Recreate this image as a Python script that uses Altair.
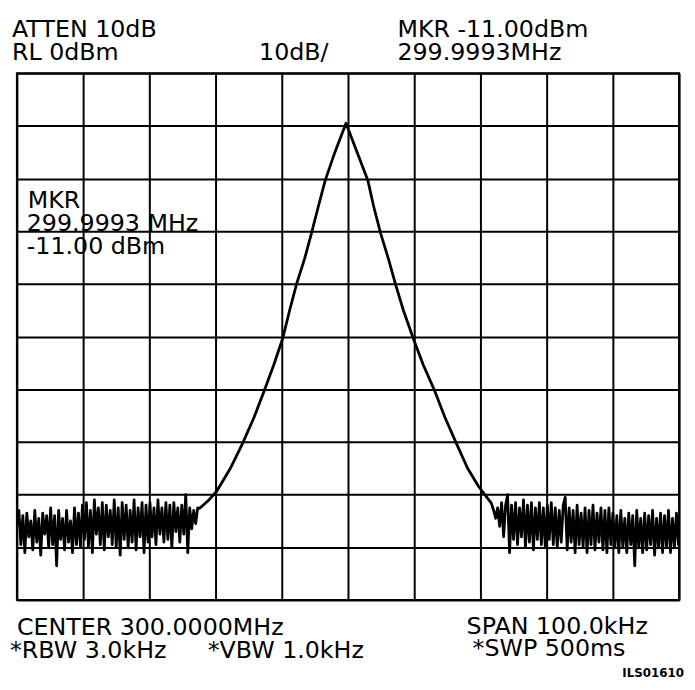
import altair as alt
import pandas as pd

# ---------------- data ----------------
START_MHZ = 299.95          # CENTER 300.0000 MHz, SPAN 100 kHz
grid_khz = [0, 10, 20, 30, 40, 50, 60, 70, 80, 90, 100]
grid_dbm = [0, -10, -20, -30, -40, -50, -60, -70, -80, -90, -100]

NOISE_STEP_KHZ = 0.3
noise_left_start_khz = 0.0
noise_left_dbm = [
    # 0 - 10 kHz
    -86, -83, -89.5, -84, -91, -83.5, -88, -85, -90.5, -83,
    -89, -84.5, -91.5, -83.5, -87.5, -84, -90, -82.5, -89.5, -84,
    -93.5, -83, -88.5, -84.5, -90.5, -83, -89, -85, -91, -82.5,
    -89.5, -83.5, -90, -82,
    # 10 - 20 kHz
    -88.5, -81.5, -90, -83, -91, -81, -87.5, -82.5, -89.5, -81.5,
    -90.5, -82, -88, -83, -89.5, -81, -90, -82.5, -91.5, -81.5,
    -88.5, -82, -90, -83, -89, -81, -90.5, -82.5, -88, -81.5,
    -91, -82, -89,
    # 20 - 27.6 kHz
    -81.5, -88, -82.5, -89.5, -81, -87.5, -82.5, -89, -81.5, -88.5,
    -82, -90, -81.5, -87, -82.5, -89, -82, -87.5, -80, -91,
    -82.5, -86.5, -83, -85.5, -82.5, -82.6,
]

curve_khz = [29.0, 30.15, 32.24, 34.03, 35.82, 37.31, 38.81, 40.15, 41.19,
             42.24, 43.43, 44.48, 45.52, 46.57, 47.91, 49.7,
             51.49, 52.99, 53.88, 54.93, 56.12, 57.16, 58.36, 59.85, 61.34,
             63.13, 64.63, 66.42, 68.06, 69.70, 71.64]
curve_dbm = [-81.0, -79.4, -75.0, -70.4, -65.3, -60.4, -55.3, -50.3, -45.0,
             -40.0, -35.3, -30.4, -25.3, -20.3, -15.4, -9.5,
             -15.4, -20.3, -25.3, -30.4, -35.3, -40.0, -45.0, -50.3, -55.3,
             -60.4, -65.3, -70.4, -75.0, -78.4, -81.6]

noise_right_start_khz = 72.0
noise_right_dbm = [
    # 72 - 81 kHz
    -83, -84.5, -82.5, -86, -81.5, -88, -82, -80, -91, -82,
    -88.5, -81.5, -89.5, -82.5, -88, -81, -90, -82, -89, -81.5,
    -90.5, -82.5, -88.5, -81.5, -89.5, -82.5, -90, -82, -88.5, -81.5,
    # 81 - 90 kHz
    -89.5, -82.5, -90, -83, -89, -82, -80.5, -90.5, -82.5, -89,
    -83, -91, -82, -89.5, -83.5, -90, -82.5, -91, -83, -89.5,
    -82, -90.5, -83.5, -89, -82.5, -90.5, -83, -91, -82.5, -89.5,
    # 90 - 100 kHz
    -83.5, -90, -84, -91, -83, -90, -84.5, -91, -83.5, -89.5,
    -84, -93.5, -83, -90, -84.5, -91, -83.5, -90.5, -84, -89.5,
    -83, -91.5, -84.5, -90, -83.5, -91, -84, -90, -83, -91,
    -84.5, -90, -83.5, -89.5, -84,
]

header_labels = ["ATTEN 10dB", "RL 0dBm", "10dB/", "MKR -11.00dBm", "299.9993MHz"]
marker_labels = ["MKR", "299.9993 MHz", "-11.00 dBm"]
footer_labels = ["CENTER 300.0000MHz", "*RBW 3.0kHz", "*VBW 1.0kHz",
                 "SPAN 100.0kHz", "*SWP 500ms"]
figure_id = "ILS01610"

# ---------------- table ----------------
khz = ([noise_left_start_khz + NOISE_STEP_KHZ * i for i in range(len(noise_left_dbm))]
       + curve_khz
       + [noise_right_start_khz + NOISE_STEP_KHZ * i for i in range(len(noise_right_dbm))])
dbm = noise_left_dbm + curve_dbm + noise_right_dbm
trace = pd.DataFrame({"freq": [START_MHZ + k / 1000.0 for k in khz], "dbm": dbm})
grid_mhz = [START_MHZ + k / 1000.0 for k in grid_khz]

# ---------------- layout (page pixels) ----------------
PLOT_LEFT, PLOT_TOP = 17, 70
W, H = 670, 533
FONT = "DejaVu Sans"
FS = 24

header_pos = [(12, 33), (12, 57), (262, 57), (402, 33), (402, 57)]
marker_pos = [(28, 206), (27, 230), (27, 253)]
footer_pos = [(17, 638), (10, 662), (210, 662), (472, 637), (478, 660)]
id_pos = (692, 681)

gaxis = dict(grid=True, gridColor="black", gridWidth=2, gridOpacity=1,
             labels=False, ticks=False, domain=False, title=None)

line = alt.Chart(trace).mark_line(color="black", strokeWidth=2.8, clip=True,
                                  strokeJoin="round").encode(
    x=alt.X("freq:Q", scale=alt.Scale(domain=[grid_mhz[0], grid_mhz[-1]], nice=False, zero=False),
            axis=alt.Axis(values=grid_mhz, **gaxis)),
    y=alt.Y("dbm:Q", scale=alt.Scale(domain=[grid_dbm[-1], grid_dbm[0]], nice=False, zero=False),
            axis=alt.Axis(values=grid_dbm, **gaxis)),
)


def label(text, pos, size=FS, weight="normal", align="left"):
    return alt.Chart(pd.DataFrame({"t": [text]})).mark_text(
        align=align, baseline="alphabetic", font=FONT, fontSize=size,
        fontWeight=weight, color="black",
    ).encode(
        x=alt.value(pos[0] - PLOT_LEFT),
        y=alt.value(pos[1] - PLOT_TOP),
        text="t:N",
    )


texts = []
for t, p in zip(header_labels, header_pos):
    texts.append(label(t, p))
for t, p in zip(marker_labels, marker_pos):
    texts.append(label(t, p))
for t, p in zip(footer_labels, footer_pos):
    texts.append(label(t, p))
texts.append(label(figure_id, id_pos, size=12, weight="bold", align="right"))

chart = alt.layer(line, *texts).properties(
    width=W, height=H,
    autosize=alt.AutoSizeParams(type="none"),
    padding={"left": PLOT_LEFT - 8, "top": PLOT_TOP - 8, "right": 8, "bottom": 80},
    background="white",
).configure_view(stroke="black", strokeWidth=2)

chart.save("out.html", embed_options={"renderer": "svg", "actions": False})
